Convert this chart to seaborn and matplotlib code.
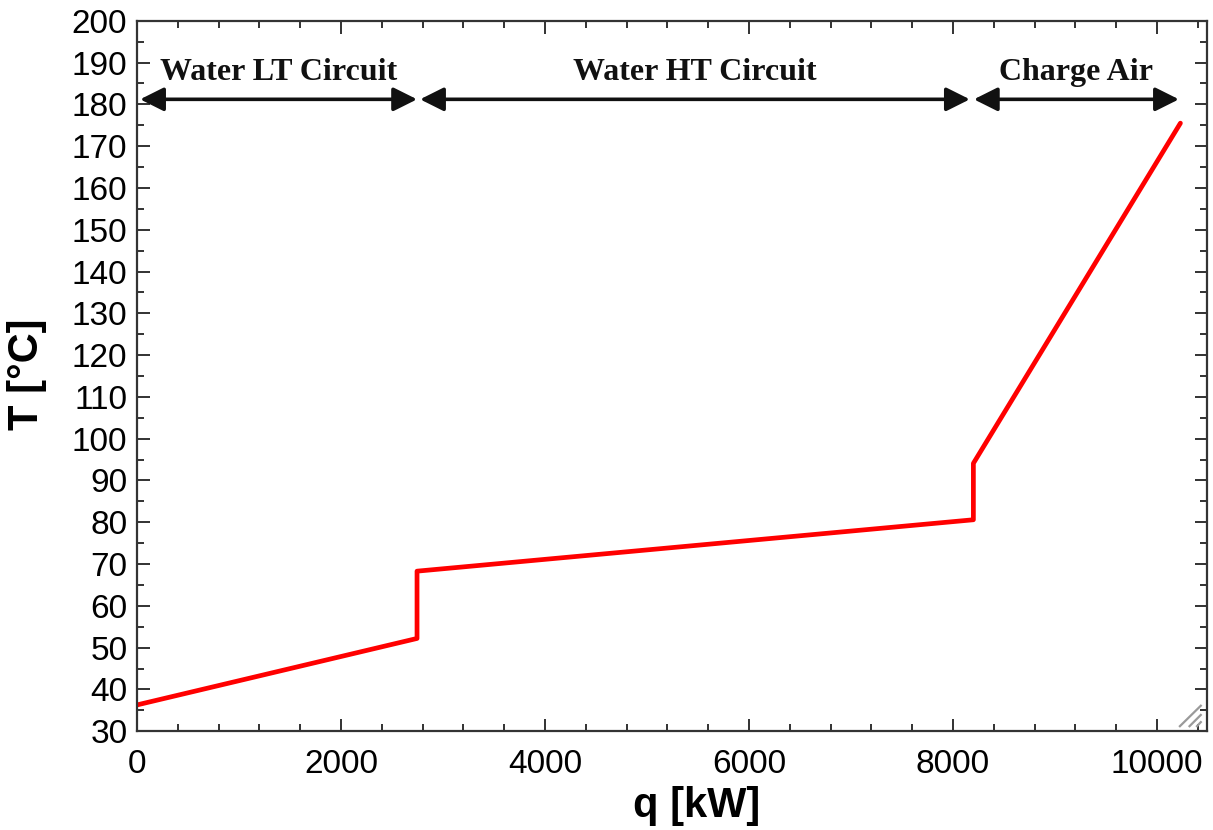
import matplotlib
matplotlib.use("Agg")
import matplotlib.pyplot as plt
from matplotlib.ticker import MultipleLocator
import pandas as pd
import seaborn as sns

# Composite cooling curve of the heat recovery chain
q_kw = [0, 2745, 2745, 8200, 8200, 10230]
temp_c = [36.3, 52.2, 68.3, 80.6, 94.1, 175.5]

# Heat-load ranges of each circuit (kW) and their labels
section_names = ["Water LT Circuit", "Water HT Circuit", "Charge Air"]
section_start = [30, 2775, 8205]
section_end = [2745, 8165, 10215]
arrow_level = 181.2
label_level = 187.6

sns.set_theme(style="ticks")
plt.rcParams["font.family"] = ["Liberation Sans", "DejaVu Sans"]

fig = plt.figure(figsize=(12.13, 8.30), dpi=100)
ax = fig.add_axes([0.113, 0.119, 0.882, 0.856])

df = pd.DataFrame({"q": q_kw, "T": temp_c})
sns.lineplot(data=df, x="q", y="T", sort=False, estimator=None,
             color="#ff0000", linewidth=3.4, ax=ax)

for name, x0, x1 in zip(section_names, section_start, section_end):
    ax.annotate("", xy=(x1, arrow_level), xytext=(x0, arrow_level),
                arrowprops=dict(arrowstyle="<|-|>", color="#111111",
                                lw=2.6, mutation_scale=36,
                                shrinkA=0, shrinkB=0))
    ax.text((x0 + x1) / 2, label_level, name, ha="center", va="center",
            fontsize=23, fontweight="bold",
            family=["Liberation Serif", "DejaVu Serif"], color="#111111")

ax.set_xlim(0, 10490)
ax.set_ylim(30, 200)
ax.xaxis.set_major_locator(MultipleLocator(2000))
ax.xaxis.set_minor_locator(MultipleLocator(400))
ax.yaxis.set_major_locator(MultipleLocator(10))
ax.yaxis.set_minor_locator(MultipleLocator(5))

ax.tick_params(which="both", direction="in", top=True, right=True,
               color="#222222", width=1.3, labelcolor="black")
ax.tick_params(which="major", length=9, labelsize=24)
ax.tick_params(axis="x", which="major", pad=13)
ax.tick_params(axis="y", which="major", pad=7)
ax.tick_params(which="minor", length=5)
for side in ax.spines.values():
    side.set_color("#333333")
    side.set_linewidth(1.6)

ax.set_xlabel("q [kW]", fontsize=30, fontweight="bold", color="black")
ax.set_ylabel("T [°C]", fontsize=30, fontweight="bold", color="black")
ax.xaxis.set_label_coords(0.523, -0.077)
ax.yaxis.set_label_coords(-0.084, 0.503)

# small grip marks in the lower right corner of the frame
for x0, y0, x1, y1 in [(0.974, 0.006, 0.995, 0.037),
                       (0.983, 0.006, 0.995, 0.024),
                       (0.990, 0.006, 0.995, 0.014)]:
    ax.plot([x0, x1], [y0, y1], transform=ax.transAxes, color="#9a9a9a",
            lw=1.6, solid_capstyle="butt")

fig.savefig("out.png", dpi=100, facecolor="white")
